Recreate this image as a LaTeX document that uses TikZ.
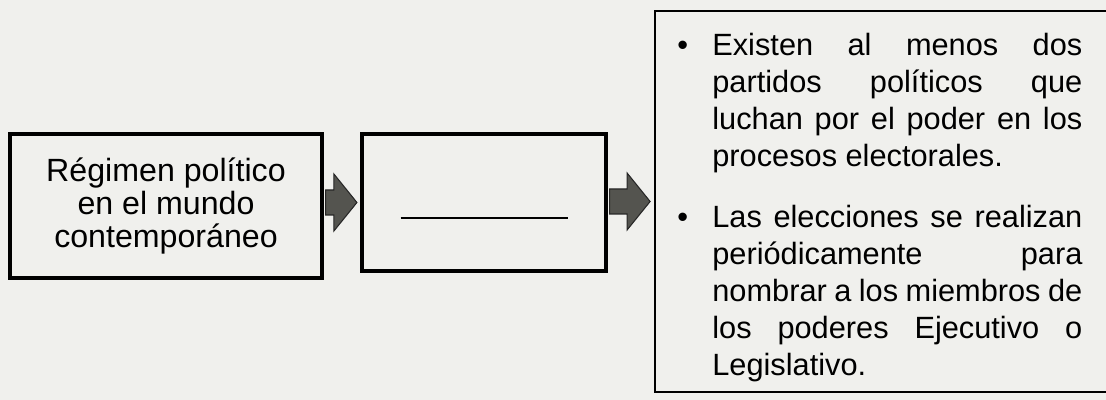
\documentclass[tikz,border=0pt]{standalone}
\usepackage{fontspec}
\setmainfont{Liberation Sans}
\usetikzlibrary{backgrounds,calc}
\definecolor{paper}{rgb}{0.94,0.94,0.93}
\definecolor{arrowgray}{rgb}{0.33,0.33,0.31}
\newcommand{\bulletitem}[1]{\parbox{8.1cm}{\leftskip=0.7cm\parindent=0pt\noindent\hspace*{-0.7cm}\makebox[0.7cm][l]{\textbullet}#1}}

\begin{document}
\begin{tikzpicture}[scale=1.0,
	background rectangle/.style={fill=paper}, inner frame sep=0pt, show background rectangle,
	box/.style={draw=black,line width=1.8pt,inner sep=0pt},
	fatarrow/.style={fill=arrowgray,draw=black!85,line width=0.6pt,line join=miter},
	items/.style={anchor=north west,inner sep=0pt,font=\fontsize{17.5}{21}\selectfont}]
	\useasboundingbox (0,0) rectangle (22.12,8);
	\node[box,minimum width=6.24cm,minimum height=2.88cm,align=center,font=\fontsize{18.3}{18.8}\selectfont] (regimen) at (3.32,3.88) {Régimen político\\en el mundo\\contemporáneo};
	\node[box,minimum width=4.88cm,minimum height=2.74cm] (tipo) at (9.68,3.95) {};
	\node[inner sep=0pt] (blank) at ([yshift=-0.31cm]tipo.center) {\rule{3.34cm}{1.1pt}};
	\node[box,line width=1.6pt,minimum width=9.4cm,minimum height=7.62cm] (rasgos) at (17.8,3.97) {};
	\foreach \from/\to in {regimen/tipo,tipo/rasgos} {
		\filldraw[fatarrow] let \p1=(\from.east), \p2=($(\to.west)+(-0.07,0)$) in
			(\x1+0.04cm,\y2+0.25cm) -- (\x2-0.46cm,\y2+0.25cm) -- (\x2-0.46cm,\y2+0.57cm) -- (\p2)
			-- (\x2-0.46cm,\y2-0.57cm) -- (\x2-0.46cm,\y2-0.25cm) -- (\x1+0.04cm,\y2-0.25cm) -- cycle;
	}
	\node[items] (partidos) at (13.54,7.34) {\bulletitem{Existen al menos dos\linebreak
		partidos políticos que\linebreak luchan por el poder en los\linebreak procesos electorales.}};
	\node[items] (elecciones) at (13.54,3.90) {\bulletitem{Las elecciones se realizan\linebreak
		periódicamente para\linebreak nombrar a los miembros de\linebreak los poderes Ejecutivo o\linebreak Legislativo.}};
\end{tikzpicture}
\end{document}
